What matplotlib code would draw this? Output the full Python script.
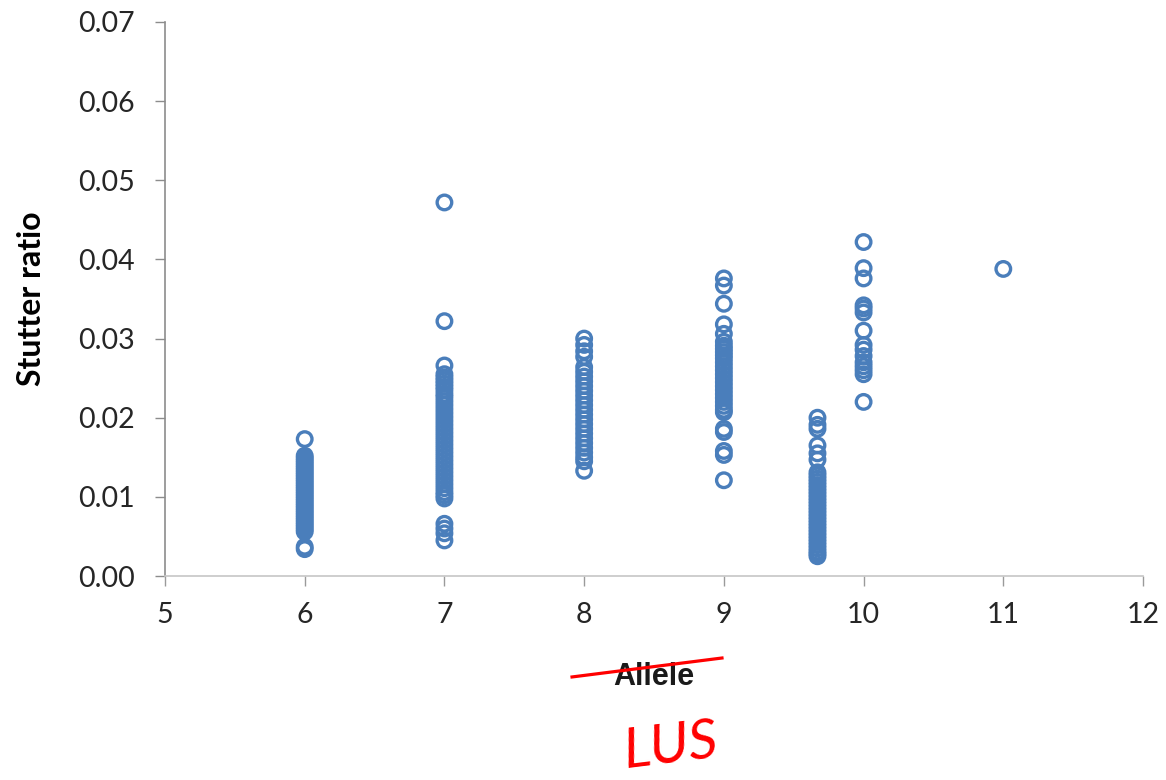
import numpy as np
import matplotlib
matplotlib.use("Agg")
import matplotlib.pyplot as plt
from matplotlib.lines import Line2D

# Stutter ratio per allele (LUS) observation
allele_positions = [6, 7, 8, 9, 9.67, 10, 11]

allele_6 = [0.0173, 0.0152, 0.0149, 0.0146, 0.0143, 0.0140, 0.0137, 0.0134, 0.0131,
            0.0128, 0.0125, 0.0122, 0.0119, 0.0116, 0.0113, 0.0110, 0.0107, 0.0104,
            0.0101, 0.0098, 0.0095, 0.0092, 0.0089, 0.0086, 0.0083, 0.0080, 0.0077,
            0.0074, 0.0071, 0.0068, 0.0065, 0.0062, 0.0059, 0.0056, 0.0037, 0.0034]
allele_7 = [0.0472, 0.0322, 0.0266, 0.0255, 0.0251, 0.0247, 0.0243, 0.0239, 0.0235,
            0.0230, 0.0226, 0.0221, 0.0216, 0.0211, 0.0206, 0.0201, 0.0196, 0.0191,
            0.0186, 0.0181, 0.0176, 0.0171, 0.0166, 0.0161, 0.0156, 0.0151, 0.0146,
            0.0141, 0.0136, 0.0131, 0.0126, 0.0121, 0.0116, 0.0111, 0.0106, 0.0102,
            0.0098, 0.0066, 0.0060, 0.0054, 0.0045]
allele_8 = [0.0300, 0.0292, 0.0284, 0.0277, 0.0264, 0.0258, 0.0252, 0.0246, 0.0240,
            0.0234, 0.0228, 0.0222, 0.0216, 0.0210, 0.0204, 0.0198, 0.0192, 0.0186,
            0.0180, 0.0174, 0.0168, 0.0162, 0.0156, 0.0150, 0.0145, 0.0133]
allele_9 = [0.0376, 0.0367, 0.0344, 0.0318, 0.0306, 0.0296, 0.0291, 0.0287, 0.0283,
            0.0279, 0.0275, 0.0270, 0.0265, 0.0260, 0.0255, 0.0250, 0.0245, 0.0240,
            0.0235, 0.0230, 0.0225, 0.0220, 0.0215, 0.0210, 0.0207, 0.0186, 0.0182,
            0.0158, 0.0153, 0.0121]
allele_9_67 = [0.0200, 0.0191, 0.0186, 0.0165, 0.0155, 0.0147, 0.0131, 0.0127, 0.0123,
               0.0119, 0.0115, 0.0111, 0.0107, 0.0103, 0.0099, 0.0095, 0.0091, 0.0087,
               0.0083, 0.0079, 0.0075, 0.0071, 0.0067, 0.0063, 0.0059, 0.0055, 0.0051,
               0.0047, 0.0043, 0.0039, 0.0035, 0.0031, 0.0028, 0.0025]
allele_10 = [0.0422, 0.0389, 0.0376, 0.0342, 0.0338, 0.0333, 0.0310, 0.0292, 0.0286,
             0.0278, 0.0270, 0.0265, 0.0260, 0.0255, 0.0220]
allele_11 = [0.0388]

series = [allele_6, allele_7, allele_8, allele_9, allele_9_67, allele_10, allele_11]

x_ticks = [5, 6, 7, 8, 9, 10, 11, 12]
y_ticks = [0.00, 0.01, 0.02, 0.03, 0.04, 0.05, 0.06, 0.07]

fig = plt.figure(figsize=(11.66, 7.8), dpi=100)
ax = fig.add_axes([0.1415, 0.2615, 0.8388, 0.7103])

color = "#4A7EBB"
for pos, vals in zip(allele_positions, series):
    ax.scatter(np.full(len(vals), pos), vals, s=110, facecolors="none",
               edgecolors=color, linewidths=2.4, zorder=3)

ax.set_xlim(5, 12)
ax.set_ylim(0, 0.07)
ax.set_xticks(x_ticks)
ax.set_yticks(y_ticks)
ax.set_xticklabels([str(v) for v in x_ticks])
ax.set_yticklabels([f"{v:.2f}" for v in y_ticks])

for side in ("top", "right"):
    ax.spines[side].set_visible(False)
ax.spines["left"].set_color("#8c8c8c")
ax.spines["bottom"].set_color("#c6c6c6")
ax.spines["left"].set_linewidth(1.2)
ax.spines["bottom"].set_linewidth(1.2)

ax.tick_params(axis="y", direction="out", length=7, width=1.0, color="#8c8c8c",
               pad=15, labelsize=20.5, labelcolor="#262626")
ax.tick_params(axis="x", direction="out", length=7, width=1.0, color="#9a9a9a",
               pad=12, labelsize=20.5, labelcolor="#262626")
for lbl in ax.get_xticklabels() + ax.get_yticklabels():
    lbl.set_family("Lato")

ax.set_ylabel("Stutter ratio", fontsize=23, fontweight="bold", family="Lato")
ax.yaxis.set_label_coords(-0.122, 0.5)
ax.set_xlabel("Allele", fontsize=22, fontweight="bold",
              family="Liberation Sans", color="#1a1a1a")
ax.xaxis.set_label_coords(0.5, -0.156)

# Red correction: strike the old axis title and write the new one
fig.add_artist(Line2D([0.4906, 0.6192], [0.1321, 0.1564], color="red",
                      linewidth=2.3, transform=fig.transFigure))
fig.text(0.575, 0.043, "LUS", color="red", fontsize=41, family="Lato",
         fontstyle="italic", rotation=7, ha="center", va="center")

fig.savefig("out.png", dpi=100, facecolor="white")
